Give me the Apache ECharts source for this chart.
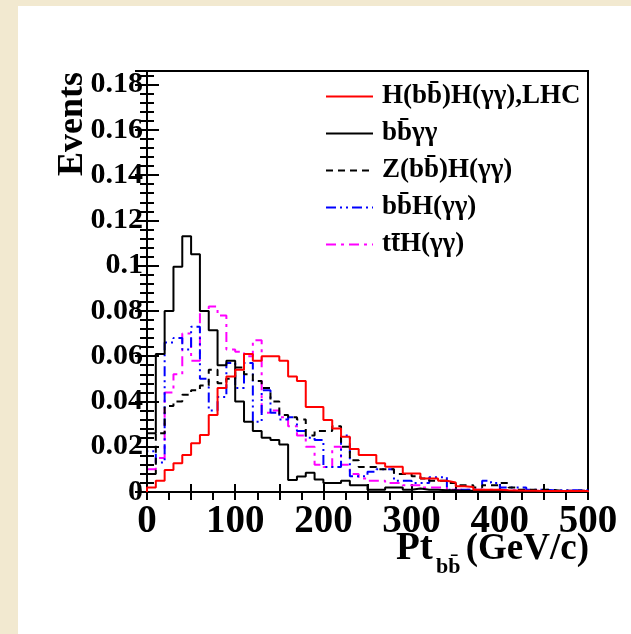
<!DOCTYPE html>
<html><head><meta charset="utf-8">
<script src="https://cdn.jsdelivr.net/npm/echarts@6/dist/echarts.min.js"></script>
<style>
html,body{margin:0;padding:0;width:631px;height:634px;background:#F2E9D0;overflow:hidden}
#bg{position:absolute;left:18px;top:6px;width:613px;height:628px;background:#fff}
#c{position:absolute;left:0;top:0;width:631px;height:634px}
</style></head><body>
<div id="bg"></div><div id="c"></div>
<script>
// bin settings (GeV)
const binWidth = 10;
const nBins = 50;
const xTickLabels = [0, 100, 200, 300, 400, 500];
const yTickLabels = [0, 0.02, 0.04, 0.06, 0.08, 0.1, 0.12, 0.14, 0.16, 0.18];

const seriesNames = ['H(bb\u0304)H(\u03b3\u03b3),LHC', 'bb\u0304\u03b3\u03b3', 'Z(bb\u0304)H(\u03b3\u03b3)', 'bb\u0304H(\u03b3\u03b3)', 'tt\u0304H(\u03b3\u03b3)'];

const hhLHC = [0.002,0.005,0.0097,0.0127,0.0163,0.0215,0.0252,0.034,0.046,0.051,
  0.054,0.061,0.058,0.060,0.060,0.058,0.051,0.049,0.0375,0.0375,
  0.0318,0.028,0.0244,0.019,0.0163,0.0163,0.0127,0.0112,0.0112,0.0082,
  0.0082,0.006,0.006,0.005,0.0042,0.0025,0.0022,0.001,0.001,0.001,
  0.0008,0.0007,0.0006,0.0005,0.0004,0.0004,0.0004,0.0004,0.0004,0.0004];

const bbgg = [0.026,0.061,0.080,0.0995,0.113,0.105,0.080,0.0715,0.056,0.058,
  0.040,0.031,0.027,0.024,0.023,0.021,0.0053,0.0068,0.0085,0.0055,
  0.004,0.004,0.005,0.003,0.003,0.001,0.001,0.002,0.002,0.001,
  0.0015,0.001,0.001,0.0008,0.0008,0.0006,0.0006,0.0005,0.0005,0.0005,
  0.0004,0.0004,0.0004,0.0003,0.0003,0.0003,0.0003,0.0003,0.0003,0.0003];

const zh = [0.008,0.026,0.038,0.040,0.043,0.045,0.047,0.054,0.048,0.050,
  0.055,0.052,0.049,0.046,0.040,0.034,0.033,0.032,0.025,0.027,
  0.027,0.029,0.020,0.014,0.011,0.011,0.010,0.010,0.008,0.008,
  0.007,0.006,0.005,0.005,0.004,0.003,0.003,0.002,0.003,0.003,
  0.004,0.002,0.001,0.001,0.001,0.001,0.0005,0.0005,0.0005,0.0005];

const bbh = [0.018,0.013,0.066,0.068,0.063,0.073,0.050,0.036,0.042,0.057,
  0.046,0.057,0.031,0.045,0.035,0.032,0.033,0.027,0.024,0.023,
  0.011,0.011,0.025,0.007,0.007,0.009,0.010,0.010,0.005,0.005,
  0.004,0.004,0.0065,0.0065,0.001,0.001,0.001,0.001,0.005,0.004,
  0.002,0.002,0.002,0.001,0.001,0.0008,0.0008,0.0008,0.0008,0.0008];

const tth = [0.010,0.015,0.044,0.052,0.070,0.058,0.080,0.082,0.078,0.063,
  0.062,0.060,0.067,0.035,0.036,0.033,0.029,0.025,0.020,0.012,
  0.011,0.020,0.012,0.008,0.006,0.005,0.005,0.004,0.004,0.003,
  0.003,0.002,0.002,0.002,0.001,0.001,0.001,0.001,0.001,0.001,
  0.0008,0.0008,0.0007,0.0006,0.0006,0.0005,0.0005,0.0005,0.0005,0.0005];

function steps(vals){
  const pts = [[0,0]];
  for (let i = 0; i < vals.length; i++) pts.push([i*binWidth, vals[i]]);
  pts.push([nBins*binWidth, vals[vals.length-1]]);
  pts.push([nBins*binWidth, 0]);
  return pts;
}

const styles = [
  {color:'#ff0000', type:'solid'},
  {color:'#000000', type:'solid'},
  {color:'#000000', type:[7,5]},
  {color:'#0000ff', type:[10,4,2,4,2,4]},
  {color:'#ff00ff', type:[10,5,3,5]}
];
const dataSets = [hhLHC, bbgg, zh, bbh, tth];

const series = dataSets.map((d, i) => ({
  name: seriesNames[i], type:'line', step:'end', symbol:'none', showSymbol:false, data: steps(d),
  color: styles[i].color,
  lineStyle:{color:styles[i].color, width:2, type:styles[i].type},
  animation:false, z: 5 - i
}));

const serif = 'Liberation Serif, DejaVu Serif, serif';
const chart = echarts.init(document.getElementById('c'), null, {renderer:'canvas'});
chart.setOption({
  animation:false,
  backgroundColor:'transparent',
  grid:{left:147, top:71, width:441, height:421, show:true, borderColor:'#000', borderWidth:2, backgroundColor:'transparent'},
  xAxis:[
    {type:'value', min:0, max:500, interval:50, position:'bottom',
     axisLine:{show:true, lineStyle:{color:'#000', width:2}},
     axisTick:{show:true, inside:true, length:8, lineStyle:{color:'#000', width:2}},
     minorTick:{show:false},
     splitLine:{show:false},
     axisLabel:{fontFamily:serif, fontWeight:'bold', fontSize:39, color:'#000', margin:10,
       formatter: v => xTickLabels.indexOf(v) >= 0 ? String(v) : ''}},
    {type:'value', min:0, max:500, interval:25, position:'top',
     axisLine:{show:true, lineStyle:{color:'#000', width:2}},
     axisTick:{show:true, inside:true, length:8, lineStyle:{color:'#000', width:2}},
     splitLine:{show:false}, axisLabel:{show:false}}
  ],
  yAxis:[
    {type:'value', min:0, max:0.186, interval:0.02, position:'left',
     axisLine:{show:true, lineStyle:{color:'#000', width:2}},
     axisTick:{show:true, inside:true, length:12, lineStyle:{color:'#000', width:2}},
     minorTick:{show:true, splitNumber:5, length:7, lineStyle:{color:'#000', width:2}},
     splitLine:{show:false},
     axisLabel:{fontFamily:serif, fontWeight:'bold', fontSize:30, color:'#000', margin:4, showMaxLabel:false,
       formatter: v => { const k = yTickLabels.findIndex(t => Math.abs(t - v) < 1e-6); return k >= 0 ? String(yTickLabels[k]) : ''; }}},
    {type:'value', min:0, max:0.186, interval:0.02, position:'right',
     axisLine:{show:true, lineStyle:{color:'#000', width:2}},
     axisTick:{show:true, inside:true, length:12, lineStyle:{color:'#000', width:2}},
     minorTick:{show:true, splitNumber:5, length:7, lineStyle:{color:'#000', width:2}},
     splitLine:{show:false}, axisLabel:{show:false}}
  ],
  legend:{
    orient:'vertical', left:325, top:83, padding:0, itemWidth:47, itemHeight:12, itemGap:10,
    data: seriesNames,
    itemStyle:{opacity:0},
    textStyle:{fontFamily:serif, fontWeight:'bold', fontSize:27, color:'#000', lineHeight:26, padding:[0,0,0,4]}
  },
  graphic:[
    {type:'text', x:73, y:72, rotation:Math.PI/2,
     style:{text:'Events', fontFamily:serif, fontWeight:'bold', fontSize:36, fill:'#000', align:'right', verticalAlign:'middle'}},
    {type:'text', x:396, y:549,
     style:{text:'Pt', fontFamily:serif, fontWeight:'bold', fontSize:39, fill:'#000', align:'left', verticalAlign:'middle'}},
    {type:'text', x:436, y:567,
     style:{text:'bb\u0304', fontFamily:serif, fontWeight:'bold', fontSize:22, fill:'#000', align:'left', verticalAlign:'middle'}},
    {type:'text', x:589, y:549,
     style:{text:'(GeV/c)', fontFamily:serif, fontWeight:'bold', fontSize:37, fill:'#000', align:'right', verticalAlign:'middle'}}
  ],
  series: series
});
</script>
</body></html>
